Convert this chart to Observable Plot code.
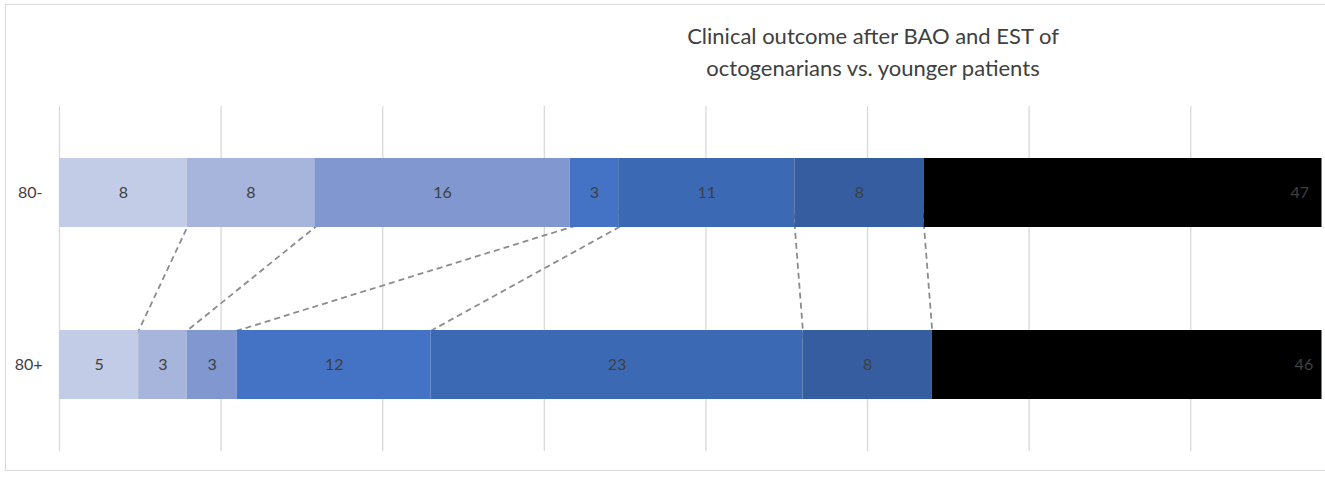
<!DOCTYPE html>
<html>
<head>
<meta charset="utf-8">
<script src="https://cdn.jsdelivr.net/npm/d3@7"></script>
<script src="https://cdn.jsdelivr.net/npm/@observablehq/plot@0.6"></script>
<style>
  body { margin: 0; background: #fff; }
  #wrap { position: relative; width: 1325px; height: 477px; overflow: hidden; background: #fff; }
  #border { position: absolute; left: 5px; top: 4px; width: 1340px; height: 467px; border: 1.5px solid #d9d9d9; box-sizing: border-box; pointer-events: none; }
  #title { position: absolute; left: 573px; width: 600px; top: 20px; text-align: center; font-family: Lato, "Open Sans", sans-serif; font-size: 22px; line-height: 32px; color: #404040; }
  #chart { position: absolute; left: 0; top: 0; }
</style>
</head>
<body>
<div id="wrap">
  <div id="chart"></div>
  <div id="border"></div>
  <div id="title">Clinical outcome after BAO and EST of<br>octogenarians vs. younger patients</div>
</div>
<script>
// Data (percent of patients per outcome category)
const groups = ["80-", "80+"];
const segments = ["c1", "c2", "c3", "c4", "c5", "c6", "c7"];
const younger = [7.9, 7.9, 15.8, 3.0, 10.9, 8.0, 46.5];   // "80-"
const older   = [4.9, 3.0, 3.1, 12.0, 23.0, 8.0, 46.0];   // "80+"
const segColors = ["#c3cce6", "#a7b4db", "#8097cf", "#4472c4", "#3c69b3", "#355d9f", "#000000"];
const gridTicks = [0, 10, 20, 30, 40, 50, 60, 70];

const rows = [
  ...younger.map((v, i) => ({group: groups[0], seg: segments[i], value: v})),
  ...older.map((v, i) => ({group: groups[1], seg: segments[i], value: v}))
];

// connectors between matching boundaries of the two bars
const padInner = 0.6, padOuter = 0.3;
const cumY = Array.from(d3.cumsum(younger)).slice(0, 6);
const cumO = Array.from(d3.cumsum(older)).slice(0, 6);
// links run between band centres (hidden behind the bars); their ends are extended so the
// visible part goes from the bottom edge of the upper bar to the top edge of the lower bar
const f1 = (1 - padInner) / 2, f2 = 1 - f1;
const links = cumY.map((a, i) => {
  const b = cumO[i];
  const D = (b - a) / (f2 - f1);
  return {x1: a - f1 * D, x2: b + f1 * D, g1: groups[0], g2: groups[1]};
});

const chart = Plot.plot({
  width: 1325,
  height: 477,
  marginLeft: 59,
  marginRight: 3.5,
  marginTop: 106,
  marginBottom: 26,
  style: {fontFamily: "Lato, 'Open Sans', sans-serif", fontSize: "16px", color: "#404040", background: "transparent"},
  x: {domain: [0, 78.12], axis: null},
  y: {domain: groups, paddingInner: padInner, paddingOuter: padOuter, tickSize: 0, tickPadding: 17, label: null},
  color: {domain: segments, range: segColors},
  marks: [
    Plot.ruleX(gridTicks, {stroke: "#d9d9d9", strokeWidth: 1.3}),
    Plot.link(links, {x1: "x1", x2: "x2", y1: "g1", y2: "g2", stroke: "#8c8c8c", strokeWidth: 1.8, strokeDasharray: "6,4"}),
    Plot.barX(rows, {x: "value", y: "group", fill: "seg", clip: true}),
    Plot.text(rows, Plot.stackX({x: "value", y: "group", text: d => String(Math.round(d.value)), fill: "#404040", fontSize: 16, clip: true}))
  ]
});
document.getElementById("chart").appendChild(chart);
</script>
</body>
</html>
